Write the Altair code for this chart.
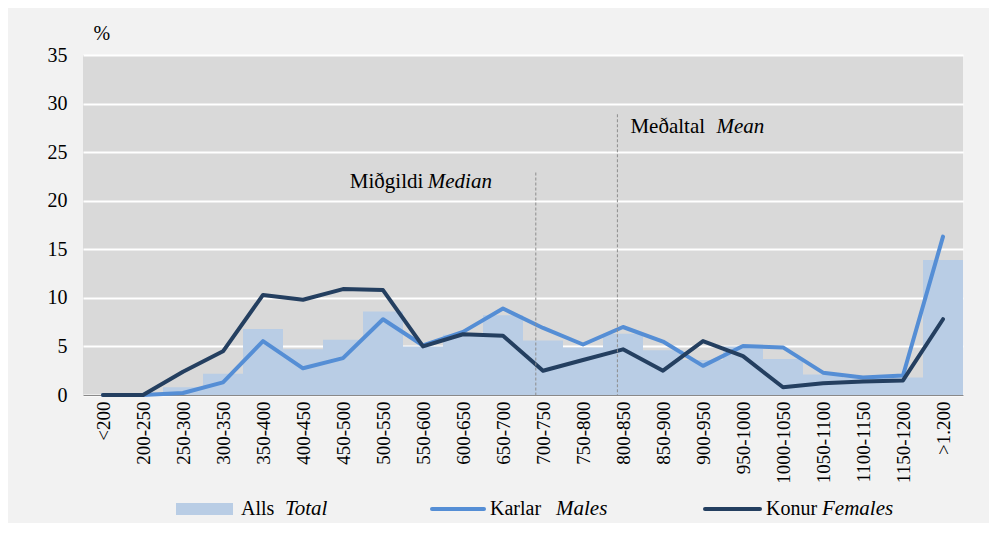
import json
import altair as alt
import pandas as pd

categories = ["<200", "200-250", "250-300", "300-350", "350-400", "400-450", "450-500",
              "500-550", "550-600", "600-650", "650-700", "700-750", "750-800", "800-850",
              "850-900", "900-950", "950-1000", "1000-1050", "1050-1100", "1100-1150",
              "1150-1200", ">1.200"]
total = [0.0, 0.1, 0.8, 2.2, 6.8, 4.7, 5.7, 8.6, 5.0, 6.2, 8.2, 5.6, 4.9, 6.3, 4.6, 3.6,
         5.0, 3.7, 2.1, 1.8, 1.8, 13.9]
males = [0.0, 0.0, 0.2, 1.3, 5.55, 2.75, 3.8, 7.8, 5.1, 6.5, 8.9, 6.9, 5.2, 7.0, 5.5, 3.0,
         5.05, 4.9, 2.3, 1.8, 2.0, 16.3]
females = [0.0, 0.0, 2.4, 4.5, 10.3, 9.8, 10.9, 10.8, 5.0, 6.25, 6.1, 2.5, 3.6, 4.7, 2.5,
           5.55, 4.0, 0.8, 1.2, 1.4, 1.5, 7.8]
y_ticks = [0, 5, 10, 15, 20, 25, 30, 35]

# median / mean (thousand ISK) on the income axis
stat_names = ["Miðgildi", "Meðaltal"]
stat_names_en = ["Median", "Mean"]
stat_values = [716, 818]

legend_is = ["Alls", "Karlar", "Konur"]
legend_en = ["Total", "Males", "Females"]

FONT = "Liberation Serif"
FS = 20
W, H = 880, 340
C_TOTAL = "#b9cde5"
C_MALE = "#558ed5"
C_FEMALE = "#243f60"

# income classes: each class spans 50 (thousand ISK) on the x axis
lo = [150 + 50 * i for i in range(len(categories))]
df = pd.DataFrame({"cat": categories, "lo": lo, "hi": [v + 50 for v in lo],
                   "mid": [v + 25 for v in lo],
                   "total": total, "males": males, "females": females})

xscale = alt.Scale(domain=[150, 150 + 50 * len(categories)], nice=False, zero=False)
yscale = alt.Scale(domain=[0, 35], nice=False)
label_expr = "%s[round((datum.value - 175) / 50)]" % json.dumps(categories, ensure_ascii=False)

x_axis = alt.Axis(values=[v + 25 for v in lo], labelExpr=label_expr, labelAngle=-90,
                  labelFont=FONT, labelFontSize=19, labelColor="black", labelPadding=6,
                  ticks=False, grid=False, domainColor="#898989", domainWidth=1,
                  title=None, labelOverlap=False, labelBound=False, labelFlush=False)
y_axis = alt.Axis(values=y_ticks, grid=True, gridColor="white", gridWidth=2,
                  ticks=False, domain=False, labelFont=FONT, labelFontSize=FS,
                  labelColor="black", labelPadding=16, title="%", titleAngle=0,
                  titleX=10, titleY=-22, titleAlign="left", titleBaseline="middle",
                  titleFont=FONT, titleFontSize=FS, titleFontWeight="normal",
                  titleColor="black")

bars = alt.Chart(df).mark_rect(color=C_TOTAL).encode(
    x=alt.X("lo:Q", scale=xscale, axis=x_axis),
    x2="hi:Q",
    y=alt.Y("total:Q", scale=yscale, axis=y_axis),
    y2=alt.datum(0),
)
male_line = alt.Chart(df).mark_line(color=C_MALE, strokeWidth=4, strokeCap="round",
                                    strokeJoin="round").encode(
    x=alt.X("mid:Q", scale=xscale), y=alt.Y("males:Q", scale=yscale))
female_line = alt.Chart(df).mark_line(color=C_FEMALE, strokeWidth=4, strokeCap="round",
                                      strokeJoin="round").encode(
    x=alt.X("mid:Q", scale=xscale), y=alt.Y("females:Q", scale=yscale))

# annotations
stats = pd.DataFrame({"name": stat_names, "en": stat_names_en, "x": stat_values,
                      "top": [22.9, 28.9], "ty": [21.9, 27.6]})
rules = alt.Chart(stats).mark_rule(color="#8c8c8c", strokeDash=[3, 2], strokeWidth=1).encode(
    x=alt.X("x:Q", scale=xscale),
    y=alt.Y("top:Q", scale=yscale),
    y2=alt.datum(0),
)
layers = [bars, male_line, female_line, rules]
offsets = {"Miðgildi": (-186, -108), "Meðaltal": (13, 99)}
for i, nm in enumerate(stat_names):
    sub = stats.iloc[[i]]
    d1, d2 = offsets[nm]
    layers.append(alt.Chart(sub).mark_text(align="left", baseline="middle", font=FONT,
                                           fontSize=21, color="black", dx=d1).encode(
        x=alt.X("x:Q", scale=xscale), y=alt.Y("ty:Q", scale=yscale), text="name:N"))
    layers.append(alt.Chart(sub).mark_text(align="left", baseline="middle", font=FONT,
                                           fontSize=21, color="black", fontStyle="italic",
                                           dx=d2).encode(
        x=alt.X("x:Q", scale=xscale), y=alt.Y("ty:Q", scale=yscale), text="en:N"))

# legend (drawn manually to allow mixed italic text)
LY = 454
leg = pd.DataFrame({"is": legend_is, "en": legend_en})
sw = [(93, 150), (349, 401), (622, 677)]
tx = [(158, 202), (407, 473), (683, 739)]
for i in range(3):
    row = leg.iloc[[i]]
    if i == 0:
        layers.append(alt.Chart(row).mark_rect(color=C_TOTAL).encode(
            x=alt.value(sw[i][0]), x2=alt.value(sw[i][1]),
            y=alt.value(LY - 6), y2=alt.value(LY + 6)))
    else:
        layers.append(alt.Chart(row).mark_rule(
            color=C_MALE if i == 1 else C_FEMALE, strokeWidth=4, strokeCap="round").encode(
            x=alt.value(sw[i][0]), x2=alt.value(sw[i][1]), y=alt.value(LY)))
    layers.append(alt.Chart(row).mark_text(align="left", baseline="middle", font=FONT,
                                           fontSize=FS, color="black").encode(
        x=alt.value(tx[i][0]), y=alt.value(LY), text="is:N"))
    layers.append(alt.Chart(row).mark_text(align="left", baseline="middle", font=FONT,
                                           fontSize=21, color="black",
                                           fontStyle="italic").encode(
        x=alt.value(tx[i][1]), y=alt.value(LY), text="en:N"))

chart = alt.layer(*layers).properties(
    width=W, height=H,
    autosize=alt.AutoSizeParams(type="none"),
    padding={"left": 75, "top": 47, "right": 26, "bottom": 128},
    background="#f2f2f2",
).configure_view(fill="#d9d9d9", stroke=None)

chart.save("out.html", embed_options={"renderer": "svg", "actions": False})
